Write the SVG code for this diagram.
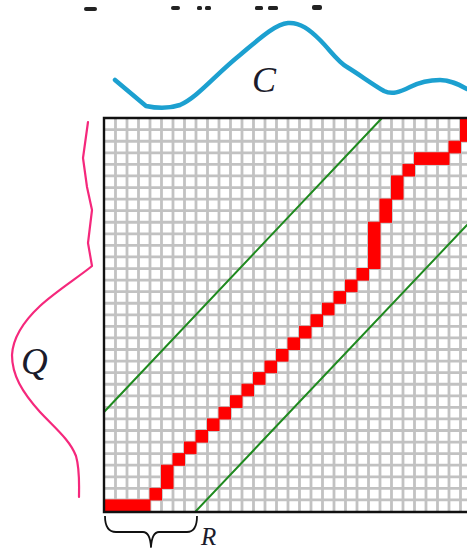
<svg xmlns="http://www.w3.org/2000/svg" width="467" height="550" viewBox="0 0 467 550">
  <style>
    .grid { stroke: #c2c2c2; stroke-width: 2.8; fill: none; }
    .border { stroke: #111; stroke-width: 2.4; fill: none; }
    .cell { fill: #ff0000; stroke: #ff0000; stroke-width: 1; }
    .band { stroke: #1f8a1f; stroke-width: 2; fill: none; stroke-linecap: round; }
    .lbl { font-family: "Liberation Serif", "Times New Roman", serif; font-style: italic; fill: #1b1b2b; }
    .frag { fill: #222; }
  </style>
  <rect width="467" height="550" fill="#ffffff"/>

  <g id="cropped-caption-fragment">
    <rect class="frag" x="84" y="7" width="13" height="4" rx="2"/>
    <rect class="frag" x="171" y="6" width="9" height="4" rx="2"/>
    <rect class="frag" x="197" y="6" width="5" height="4" rx="1.5"/>
    <rect class="frag" x="205" y="6" width="6" height="4" rx="1.5"/>
    <rect class="frag" x="255" y="6" width="8" height="4" rx="1.5"/>
    <rect class="frag" x="268" y="6" width="10" height="4" rx="1.5"/>
    <rect class="frag" x="312" y="5" width="10" height="5" rx="2"/>
  </g>

  <g id="curve-C">
    <path d="M115,80 L146,106 C155,108 168,109 180,105 C198,97 215,75 240,55 C258,40 275,24 288,23 C300,22 310,30 320,40 C330,50 338,62 347,67 C360,75 372,84 384,91 C392,95 400,92 410,87 C420,82 432,80 440,80 C450,80 458,84 467,89" fill="none" stroke="#1ca0d0" stroke-width="4.5" stroke-linejoin="round" stroke-linecap="round"/>
    <text class="lbl" x="252" y="92" font-size="36">C</text>
  </g>

  <g id="curve-Q">
    <path d="M88,122 L83,158 L87,187 L92,210 L88,243 L92,266 C80,276 55,292 40,306 C25,320 13,336 12,355 C12,375 22,392 40,412 C55,428 70,440 76,456 C80,470 79,485 79,497" fill="none" stroke="#f5287c" stroke-width="2.2" stroke-linejoin="round" stroke-linecap="round"/>
    <text class="lbl" x="21" y="374" font-size="37">Q</text>
  </g>

  <g id="grid">
    <path class="grid" d="M115.5,118V512 M127,118V512 M138.5,118V512 M150,118V512 M161.5,118V512 M173,118V512 M184.5,118V512 M196,118V512 M207.5,118V512 M219,118V512 M230.5,118V512 M242,118V512 M253.5,118V512 M265,118V512 M276.5,118V512 M288,118V512 M299.5,118V512 M311,118V512 M322.5,118V512 M334,118V512 M345.5,118V512 M357,118V512 M368.5,118V512 M380,118V512 M391.5,118V512 M403,118V512 M414.5,118V512 M426,118V512 M437.5,118V512 M449,118V512 M460.5,118V512"/>
    <path class="grid" d="M104,499.93H467 M104,488.36H467 M104,476.79H467 M104,465.22H467 M104,453.65H467 M104,442.08H467 M104,430.51H467 M104,418.94H467 M104,407.37H467 M104,395.8H467 M104,384.23H467 M104,372.66H467 M104,361.09H467 M104,349.52H467 M104,337.95H467 M104,326.38H467 M104,314.81H467 M104,303.24H467 M104,291.67H467 M104,280.1H467 M104,268.53H467 M104,256.96H467 M104,245.39H467 M104,233.82H467 M104,222.25H467 M104,210.68H467 M104,199.11H467 M104,187.54H467 M104,175.97H467 M104,164.4H467 M104,152.83H467 M104,141.26H467 M104,129.69H467"/>
  </g>

  <g id="warping-path">
    <rect class="cell" x="104" y="499.93" width="46" height="11.57"/>
    <rect class="cell" x="150" y="488.36" width="11.5" height="11.57"/>
    <rect class="cell" x="161.5" y="465.22" width="11.5" height="23.14"/>
    <rect class="cell" x="173" y="453.65" width="11.5" height="11.57"/>
    <rect class="cell" x="184.5" y="442.08" width="11.5" height="11.57"/>
    <rect class="cell" x="196" y="430.51" width="11.5" height="11.57"/>
    <rect class="cell" x="207.5" y="418.94" width="11.5" height="11.57"/>
    <rect class="cell" x="219" y="407.37" width="11.5" height="11.57"/>
    <rect class="cell" x="230.5" y="395.8" width="11.5" height="11.57"/>
    <rect class="cell" x="242" y="384.23" width="11.5" height="11.57"/>
    <rect class="cell" x="253.5" y="372.66" width="11.5" height="11.57"/>
    <rect class="cell" x="265" y="361.09" width="11.5" height="11.57"/>
    <rect class="cell" x="276.5" y="349.52" width="11.5" height="11.57"/>
    <rect class="cell" x="288" y="337.95" width="11.5" height="11.57"/>
    <rect class="cell" x="299.5" y="326.38" width="11.5" height="11.57"/>
    <rect class="cell" x="311" y="314.81" width="11.5" height="11.57"/>
    <rect class="cell" x="322.5" y="303.24" width="11.5" height="11.57"/>
    <rect class="cell" x="334" y="291.67" width="11.5" height="11.57"/>
    <rect class="cell" x="345.5" y="280.1" width="11.5" height="11.57"/>
    <rect class="cell" x="357" y="268.53" width="11.5" height="11.57"/>
    <rect class="cell" x="368.5" y="222.25" width="11.5" height="46.28"/>
    <rect class="cell" x="380" y="199.11" width="11.5" height="23.14"/>
    <rect class="cell" x="391.5" y="175.97" width="11.5" height="23.14"/>
    <rect class="cell" x="403" y="164.4" width="11.5" height="11.57"/>
    <rect class="cell" x="414.5" y="152.83" width="34.5" height="11.57"/>
    <rect class="cell" x="449" y="141.26" width="11.5" height="11.57"/>
    <rect class="cell" x="460.5" y="118.12" width="11.5" height="23.14"/>
  </g>

  <g id="band">
    <line class="band" x1="104" y1="412" x2="382" y2="118"/>
    <line class="band" x1="196" y1="511" x2="467" y2="225"/>
  </g>

  <g id="frame">
    <path class="border" d="M467,118H104V512H467"/>
  </g>

  <g id="window-R">
    <path d="M105,516 Q105,532 116,532 L143,532 Q150,532 151,547 Q152,532 159,532 L187,532 Q197,532 197,516" fill="none" stroke="#111" stroke-width="1.8" stroke-linejoin="round"/>
    <text class="lbl" x="201" y="545" font-size="25">R</text>
  </g>
</svg>
